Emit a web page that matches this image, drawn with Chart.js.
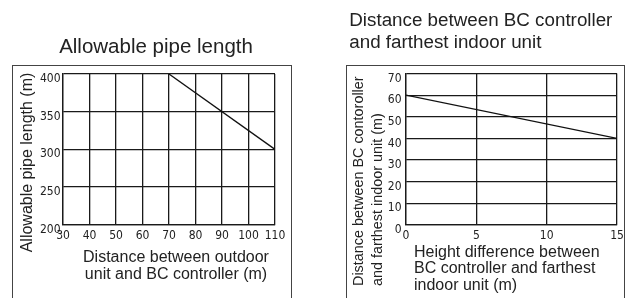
<!DOCTYPE html>
<html>
<head>
<meta charset="utf-8">
<script src="https://cdn.jsdelivr.net/npm/chart.js@4/dist/chart.umd.min.js"></script>
<style>
    body { margin: 0; background: #fff; width: 629px; height: 298px; overflow: hidden; position: relative; }
    .box { position: absolute; top: 65px; height: 260px; border: 1.5px solid #444; border-bottom: none; box-sizing: border-box; }
    canvas { position: absolute; top: 0; }
</style>
</head>
<body>
<div class="box" style="left: 12px; width: 280px;"></div>
<div class="box" style="left: 346px; width: 279px;"></div>
<canvas id="graficoTubo" width="300" height="298" style="left: 0;"></canvas>
<canvas id="graficoBC" width="289" height="298" style="left: 340px;"></canvas>
<script>
// Allowable pipe length
const tuboDist = [70, 110];
const tuboComp = [400, 300];
const tuboTicksX = [30, 40, 50, 60, 70, 80, 90, 100, 110];
const tuboTicksY = [200, 250, 300, 350, 400];

// Distance between BC controller and farthest indoor unit
const bcAltura = [0, 15];
const bcDist = [60, 40];
const bcTicksX = [0, 5, 10, 15];
const bcTicksY = [0, 10, 20, 30, 40, 50, 60, 70];

const fonte = "'Liberation Sans', Arial, sans-serif";
const fonteNum = "'Liberation Sans Narrow', 'DejaVu Sans Condensed', 'Liberation Sans', sans-serif";
const corTexto = "#222";
const corGrade = "#1a1a1a";

// escreve os títulos dos eixos onde estão no desenho original
const textoEixos = {
    id: "textoEixos",
    afterDraw(chart, args, opts) {
        const ctx = chart.ctx;
        ctx.save();
        ctx.fillStyle = corTexto;
        ctx.textBaseline = "middle";
        opts.itens.forEach(item => {
            ctx.save();
            ctx.font = item.size + "px " + fonte;
            ctx.translate(item.x, item.y);
            if (item.girar) {
                ctx.rotate(-Math.PI / 2);
            }
            ctx.textAlign = item.align;
            ctx.fillText(item.texto, 0, 0);
            ctx.restore();
        });
        ctx.restore();
    }
};

function escala(min, max, ticks, tamanho, eixoX, espaco) {
    return {
        type: "linear",
        min: min,
        max: max,
        afterBuildTicks: s => { s.ticks = ticks.map(v => ({ value: v })); },
        afterFit: s => {
            if (eixoX) { s.height = tamanho; } else { s.width = tamanho; }
        },
        grid: { color: corGrade, lineWidth: 1.3, drawTicks: false },
        border: { color: corGrade, width: 1.3 },
        ticks: {
            color: corTexto,
            font: { family: fonteNum, size: 12 },
            padding: espaco,
            labelOffset: eixoX ? 0 : 5,
            maxRotation: 0,
            autoSkip: false
        }
    };
}

function linha(xs, ys) {
    return [{
        data: xs.map((x, i) => ({ x: x, y: ys[i] })),
        borderColor: "#111",
        borderWidth: 1.3,
        pointRadius: 0,
        fill: false
    }];
}

// ==========================
// Gráfico da esquerda
// ==========================

new Chart(document.getElementById("graficoTubo").getContext("2d"), {
    type: "line",
    data: { datasets: linha(tuboDist, tuboComp) },
    options: {
        responsive: false,
        animation: false,
        devicePixelRatio: 1,
        layout: { padding: { left: 37, right: 25, top: 0, bottom: 0 } },
        plugins: {
            legend: { display: false },
            tooltip: { enabled: false },
            title: {
                display: true,
                text: "Allowable pipe length",
                color: corTexto,
                font: { family: fonte, size: 20.5, weight: "normal" },
                padding: { top: 35, bottom: 14.4 }
            },
            textoEixos: {
                itens: [
                    { texto: "Allowable pipe length (m)", x: 28, y: 162.5, size: 16, girar: true, align: "center" },
                    { texto: "Distance between outdoor", x: 176, y: 257.7, size: 16, align: "center" },
                    { texto: "unit and BC controller (m)", x: 176, y: 274.4, size: 16, align: "center" }
                ]
            }
        },
        scales: {
            x: escala(30, 110, tuboTicksX, 73.3, true, 4),
            y: escala(200, 400, tuboTicksY, 26, false, 2.5)
        }
    },
    plugins: [textoEixos]
});

// ==========================
// Gráfico da direita
// ==========================

new Chart(document.getElementById("graficoBC").getContext("2d"), {
    type: "line",
    data: { datasets: linha(bcAltura, bcDist) },
    options: {
        responsive: false,
        animation: false,
        devicePixelRatio: 1,
        layout: { padding: { left: 9.3, right: 12, top: 0, bottom: 0 } },
        plugins: {
            legend: { display: false },
            tooltip: { enabled: false },
            title: {
                display: true,
                align: "start",
                text: ["Distance between BC controller", "and farthest indoor unit"],
                color: corTexto,
                font: { family: fonte, size: 18.8, weight: "normal" },
                padding: { top: 9.2, bottom: 19.2 }
            },
            textoEixos: {
                itens: [
                    { texto: "Distance between BC contoroller", x: 19, y: 286, size: 14.4, girar: true, align: "left" },
                    { texto: "and farthest indoor unit (m)", x: 38.5, y: 286, size: 14.4, girar: true, align: "left" },
                    { texto: "Height difference between", x: 74, y: 252.4, size: 16, align: "left" },
                    { texto: "BC controller and farthest", x: 74, y: 268.9, size: 16, align: "left" },
                    { texto: "indoor unit (m)", x: 74, y: 285.4, size: 16, align: "left" }
                ]
            }
        },
        scales: {
            x: escala(0, 15, bcTicksX, 73, true, 4),
            y: escala(0, 70, bcTicksY, 56.7, false, 4.5)
        }
    },
    plugins: [textoEixos]
});
</script>
</body>
</html>
